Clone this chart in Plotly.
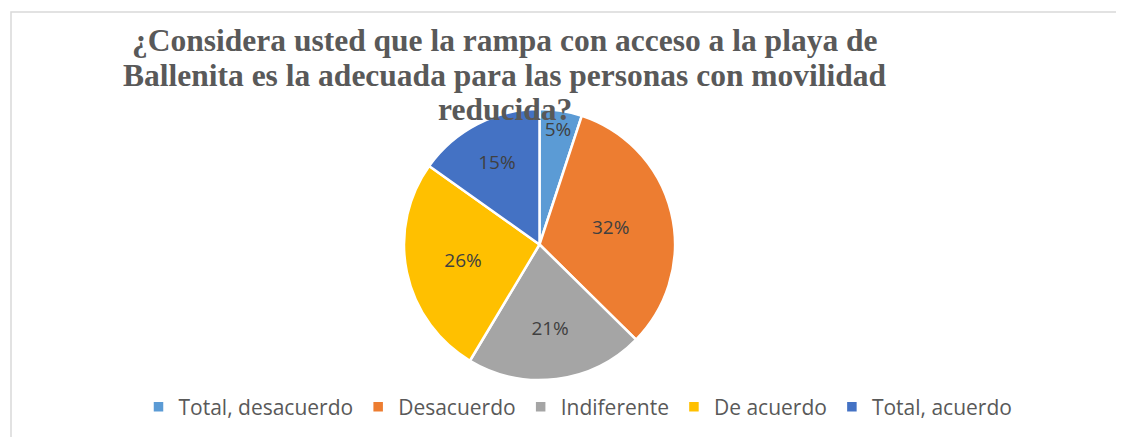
import plotly.graph_objects as go

labels = ["Total, desacuerdo", "Desacuerdo", "Indiferente", "De acuerdo", "Total, acuerdo"]
values = [5, 32, 21, 26, 15]
colors = ["#5B9BD5", "#ED7D31", "#A5A5A5", "#FFC000", "#4472C4"]

title_lines = ["¿Considera usted que la rampa con acceso a la playa de",
               "Ballenita es la adecuada para las personas con movilidad",
               "reducida?"]

# la pagina tiene 8px de margen, la figura ocupa el resto
W, H = 1116, 429
OFF = 8


def px_x(x):
    return (x - OFF) / W


def px_y(y):
    return 1 - (y - OFF) / H


fig = go.Figure()
fig.add_trace(go.Pie(
    labels=labels, values=values,
    marker=dict(colors=colors, line=dict(color="white", width=2.5)),
    sort=False, direction="clockwise", rotation=0,
    texttemplate="%{percent:.0%}", textposition="inside",
    insidetextorientation="horizontal",
    textfont=dict(family="Open Sans", size=19, color="#404040"),
    domain=dict(x=[px_x(404), px_x(675)], y=[px_y(380), px_y(109)]),
    hoverinfo="label+percent",
))

# titulo, una anotacion por linea
for line, yc in zip(title_lines, [41, 75, 109]):
    fig.add_annotation(
        text="<b>" + line + "</b>", x=px_x(505), y=px_y(yc), xref="paper", yref="paper",
        xanchor="center", yanchor="middle", showarrow=False,
        font=dict(family="Liberation Serif", size=31.5, color="#595959"),
    )

# marco del grafico
fig.add_shape(type="rect", xref="paper", yref="paper",
              x0=px_x(11), x1=1.02, y0=-0.05, y1=px_y(12),
              line=dict(color="#D9D9D9", width=1.5))

fig.update_layout(
    width=W, height=H,
    margin=dict(l=0, r=0, t=0, b=0),
    paper_bgcolor="white", plot_bgcolor="white",
    uniformtext=dict(minsize=19, mode="show"),
    legend=dict(orientation="h", x=px_x(578), xanchor="center", y=px_y(407), yanchor="middle",
                font=dict(family="Open Sans", size=21, color="#595959")),
)
fig.write_html("out.html")
